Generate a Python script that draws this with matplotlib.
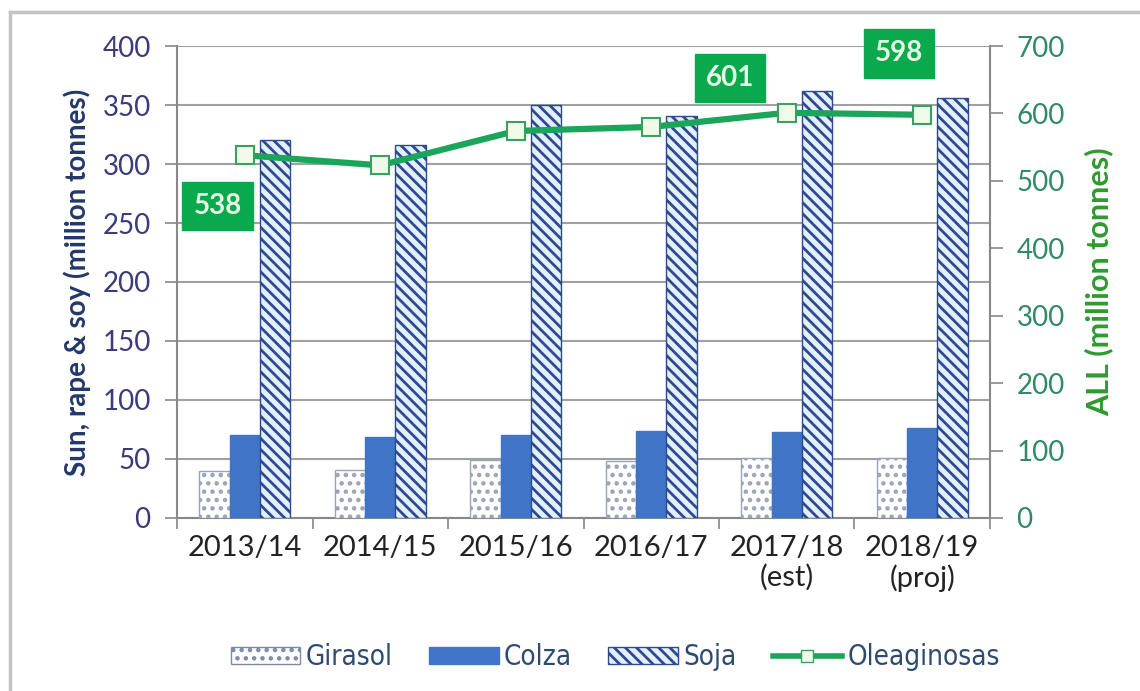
import matplotlib
matplotlib.use("Agg")
import matplotlib.pyplot as plt
import numpy as np
from matplotlib.lines import Line2D

# Campaigns
categories = ["2013/14", "2014/15", "2015/16", "2016/17", "2017/18\n(est)", "2018/19\n(proj)"]

# Production (million tonnes), left axis
girasol = [40, 41, 49, 48, 51, 51]
colza = [70, 69, 70, 74, 73, 76]
soja = [320, 316, 350, 341, 362, 356]

# Total oilseeds (million tonnes), right axis
oleaginosas = [538, 523, 574, 580, 601, 598]
labelled = {0: "538", 4: "601", 5: "598"}

plt.rcParams["font.family"] = ["Lato", "DejaVu Sans"]
plt.rcParams["hatch.linewidth"] = 2.0

fig = plt.figure(figsize=(11.4, 6.91), dpi=100)
ax = fig.add_axes([0.1553, 0.2504, 0.7131, 0.6830])
ax2 = ax.twinx()

x = np.arange(len(categories))
w = 0.223

navy = "#3a3a7c"
green_tick = "#2f8a66"
green_line = "#1aa55a"
box_green = "#0aa94e"

ax.bar(x - w, girasol, w, color="white", edgecolor="#9aa4b8", hatch="..",
       linewidth=1.0, label="Girasol", zorder=3)
ax.bar(x, colza, w, color="#3f74c6", edgecolor="#3f74c6", linewidth=1.0,
       label="Colza", zorder=3)
plt.rcParams["hatch.color"] = "#2d4a8e"
ax.bar(x + w, soja, w, color="#e3efff", edgecolor="#2d4a8e", hatch="\\\\\\",
       linewidth=1.0, label="Soja", zorder=3)

ax.set_xlim(-0.5, len(categories) - 0.5)
ax.set_ylim(0, 400)
ax.set_yticks(np.arange(0, 401, 50))
ax.grid(axis="y", color="#a0a0a0", linewidth=1.5, zorder=0)
ax.set_axisbelow(True)

ax.set_xticks(x)
ax.set_xticklabels(categories, fontsize=21, color="#222222", linespacing=1.15)
ax.set_xticks(np.arange(-0.5, len(categories)), minor=True)
ax.tick_params(axis="x", which="major", length=0, pad=12)
ax.tick_params(axis="x", which="minor", length=8, width=1.2, color="#888888", direction="out")
ax.tick_params(axis="y", labelsize=20, labelcolor=navy, length=9, width=1.2,
               color="#888888", pad=10)
for s in ["top", "right"]:
    ax.spines[s].set_visible(False)
for s in ["left", "bottom"]:
    ax.spines[s].set_color("#888888")
    ax.spines[s].set_linewidth(1.5)
ax.set_ylabel("Sun, rape & soy (million tonnes)", fontsize=20, fontweight="bold",
              color="#23386a", labelpad=8)

ax2.plot(x, oleaginosas, color=green_line, linewidth=4.5, marker="s", markersize=13,
         markerfacecolor="#eefbe9", markeredgecolor="#3aa060", markeredgewidth=1.5,
         zorder=5, label="Oleaginosas")
ax2.set_ylim(0, 700)
ax2.set_yticks(np.arange(0, 701, 100))
ax2.tick_params(axis="y", labelsize=20, labelcolor=green_tick, length=9, width=1.2,
                color="#888888", pad=10)
for s in ["top", "left", "bottom"]:
    ax2.spines[s].set_visible(False)
ax2.spines["right"].set_color("#888888")
ax2.spines["right"].set_linewidth(1.5)
ax2.set_ylabel("ALL (million tonnes)", fontsize=22, fontweight="bold",
               color="#2e9a2e", labelpad=14)

# Value boxes for selected totals
offsets = {0: (-0.2, -75), 4: (-0.42, 52), 5: (-0.17, 91)}
for i, txt in labelled.items():
    dx, dy = offsets[i]
    ax2.text(x[i] + dx, oleaginosas[i] + dy, txt, ha="center", va="center",
             fontsize=20, fontweight="bold", color="#e6fbe6", zorder=6,
             bbox=dict(boxstyle="square,pad=0.4", facecolor=box_green,
                       edgecolor=box_green))

# Legend
handles = [
    plt.Rectangle((0, 0), 1, 1, facecolor="white", edgecolor="#7c8aa6", hatch=".."),
    plt.Rectangle((0, 0), 1, 1, facecolor="#3f74c6", edgecolor="#3f74c6"),
    plt.Rectangle((0, 0), 1, 1, facecolor="#e3efff", edgecolor="#2d4a8e", hatch="\\\\\\"),
    Line2D([0], [0], color=green_line, linewidth=4, marker="s", markersize=8,
           markerfacecolor="#eefbe9", markeredgecolor="#3aa060"),
]
fig.legend(handles, ["Girasol", "Colza", "Soja", "Oleaginosas"],
           loc="center", bbox_to_anchor=(0.54, 0.049), ncol=4, frameon=False,
           prop={"family": ["DejaVu Sans"], "stretch": "condensed", "size": 20},
           handlelength=2.5, handleheight=0.55, handletextpad=0.2, columnspacing=1.3,
           labelcolor="#2e4a6e")

# Frame around the figure
fig.add_artist(Line2D([10 / 1140, 1.0], [1 - 12 / 691, 1 - 12 / 691],
                      transform=fig.transFigure, color="#c4c4c4", linewidth=2.5))
fig.add_artist(Line2D([10 / 1140, 10 / 1140], [0, 1 - 12 / 691],
                      transform=fig.transFigure, color="#c4c4c4", linewidth=2.5))

fig.savefig("out.png", dpi=100)
